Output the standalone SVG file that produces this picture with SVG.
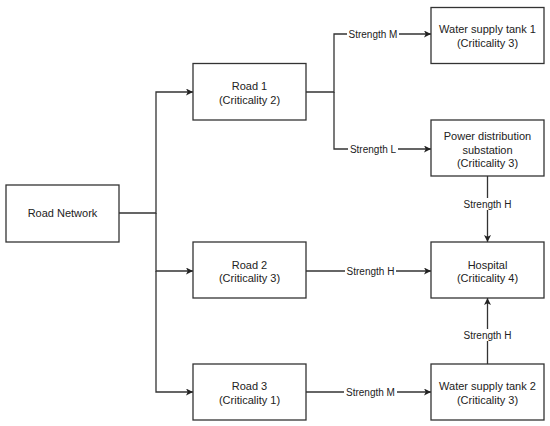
<svg xmlns="http://www.w3.org/2000/svg" width="550" height="426" viewBox="0 0 550 426">
<defs>
<marker id="arr" viewBox="0 0 10 10" refX="10" refY="5" markerWidth="7" markerHeight="7" markerUnits="userSpaceOnUse" orient="auto">
<path d="M0,0 L10,5 L0,10 L2.5,5 Z" fill="#222"/>
</marker>
<style>
.box{fill:#fff;stroke:#333;stroke-width:1.3}
.t{font-family:"Liberation Sans",Arial,sans-serif;font-size:11px;fill:#222;text-anchor:middle}
.l{font-family:"Liberation Sans",Arial,sans-serif;font-size:10px;fill:#222;text-anchor:middle}
.c{fill:none;stroke:#333;stroke-width:1.3}
.bg{fill:#fff}
</style>
</defs>
<rect width="550" height="426" fill="#fff"/>
<g id="connectors">
<path class="c" d="M119,213 H156 V92 H193" marker-end="url(#arr)"/>
<path class="c" d="M156,213 V271 H193" marker-end="url(#arr)"/>
<path class="c" d="M156,271 V392 H193" marker-end="url(#arr)"/>
<path class="c" d="M306,92 H334 V34 H431" marker-end="url(#arr)"/>
<path class="c" d="M334,92 V149 H431" marker-end="url(#arr)"/>
<path class="c" d="M306,271 H431" marker-end="url(#arr)"/>
<path class="c" d="M306,392 H431" marker-end="url(#arr)"/>
<path class="c" d="M487.5,176 V242" marker-end="url(#arr)"/>
<path class="c" d="M487.5,364 V298" marker-end="url(#arr)"/>
<rect class="bg" x="347" y="28" width="52" height="12"/>
<text class="l" x="373" y="37.5">Strength M</text>
<rect class="bg" x="348" y="143" width="50" height="12"/>
<text class="l" x="373" y="152.5">Strength L</text>
<rect class="bg" x="345" y="265" width="51" height="12"/>
<text class="l" x="370.5" y="274.5">Strength H</text>
<rect class="bg" x="344" y="386" width="53" height="12"/>
<text class="l" x="370.5" y="395.5">Strength M</text>
<rect class="bg" x="462" y="198" width="51" height="12"/>
<text class="l" x="487.5" y="207.5">Strength H</text>
<rect class="bg" x="462" y="329" width="51" height="12"/>
<text class="l" x="487.5" y="338.5">Strength H</text>
</g>
<g id="road-network">
<rect class="box" x="6" y="185" width="113" height="57"/>
<text class="t" x="62.5" y="217">Road Network</text>
</g>
<g id="road1">
<rect class="box" x="193" y="63.5" width="113" height="56.5"/>
<text class="t" x="249.5" y="90">Road 1</text>
<text class="t" x="249.5" y="103.5">(Criticality 2)</text>
</g>
<g id="road2">
<rect class="box" x="193" y="242" width="113" height="56"/>
<text class="t" x="249.5" y="268.5">Road 2</text>
<text class="t" x="249.5" y="282">(Criticality 3)</text>
</g>
<g id="road3">
<rect class="box" x="193" y="364" width="113" height="56"/>
<text class="t" x="249.5" y="390">Road 3</text>
<text class="t" x="249.5" y="403.5">(Criticality 1)</text>
</g>
<g id="water-tank-1">
<rect class="box" x="431" y="7.5" width="113" height="56"/>
<text class="t" x="487.5" y="33">Water supply tank 1</text>
<text class="t" x="487.5" y="46.5">(Criticality 3)</text>
</g>
<g id="power-substation">
<rect class="box" x="431" y="120" width="113" height="56"/>
<text class="t" x="487.5" y="140">Power distribution</text>
<text class="t" x="487.5" y="153.5">substation</text>
<text class="t" x="487.5" y="167">(Criticality 3)</text>
</g>
<g id="hospital">
<rect class="box" x="431" y="242" width="113" height="56"/>
<text class="t" x="487.5" y="268.5">Hospital</text>
<text class="t" x="487.5" y="282">(Criticality 4)</text>
</g>
<g id="water-tank-2">
<rect class="box" x="431" y="364" width="113" height="56"/>
<text class="t" x="487.5" y="390">Water supply tank 2</text>
<text class="t" x="487.5" y="403.5">(Criticality 3)</text>
</g>
</svg>
